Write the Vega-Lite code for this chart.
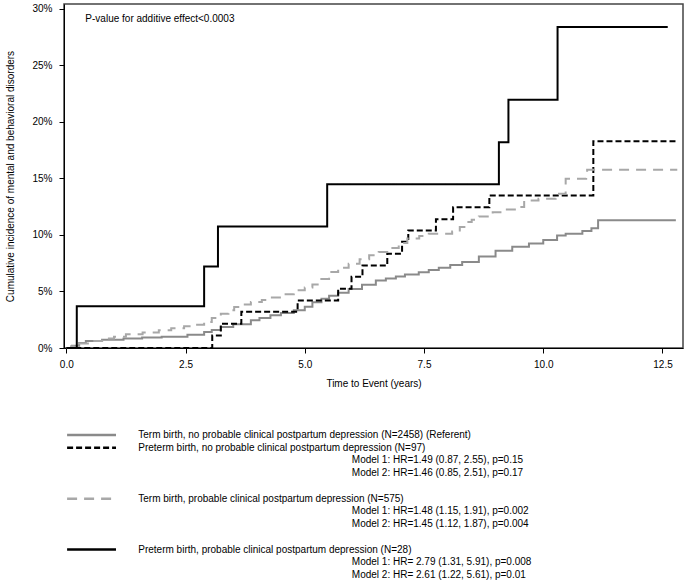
{
  "$schema": "https://vega.github.io/schema/vega-lite/v6.json",
  "padding": {"left": 5, "top": 3, "right": 0, "bottom": 0},
  "background": "white",
  "spacing": 41,
  "config": {
    "font": "Liberation Sans",
    "view": {"stroke": null},
    "axis": {
      "domainColor": "#000000",
      "tickColor": "#000000",
      "labelColor": "#000000",
      "titleColor": "#000000",
      "labelFontSize": 10,
      "titleFontSize": 10,
      "titleFontWeight": "normal",
      "tickSize": 5,
      "domainWidth": 1,
      "grid": false,
      "labelFont": "Liberation Sans",
      "titleFont": "Liberation Sans"
    },
    "text": {"font": "Liberation Sans", "fontSize": 10, "fill": "#000000"}
  },
  "datasets": {
    "curves": [
      {"series": "Term, no PPD", "t": 0, "pct": 0},
      {"series": "Term, no PPD", "t": 0.12, "pct": 0.2},
      {"series": "Term, no PPD", "t": 0.27, "pct": 0.44},
      {"series": "Term, no PPD", "t": 0.41, "pct": 0.62},
      {"series": "Term, no PPD", "t": 0.75, "pct": 0.74},
      {"series": "Term, no PPD", "t": 1.2, "pct": 0.84},
      {"series": "Term, no PPD", "t": 1.59, "pct": 0.92},
      {"series": "Term, no PPD", "t": 2.0, "pct": 1.0},
      {"series": "Term, no PPD", "t": 2.54, "pct": 1.18},
      {"series": "Term, no PPD", "t": 2.89, "pct": 1.41},
      {"series": "Term, no PPD", "t": 3.05, "pct": 1.6},
      {"series": "Term, no PPD", "t": 3.24, "pct": 1.86},
      {"series": "Term, no PPD", "t": 3.5, "pct": 2.1},
      {"series": "Term, no PPD", "t": 3.87, "pct": 2.45},
      {"series": "Term, no PPD", "t": 4.05, "pct": 2.65},
      {"series": "Term, no PPD", "t": 4.28, "pct": 2.89},
      {"series": "Term, no PPD", "t": 4.5, "pct": 3.1},
      {"series": "Term, no PPD", "t": 4.77, "pct": 3.33},
      {"series": "Term, no PPD", "t": 5.0, "pct": 3.65},
      {"series": "Term, no PPD", "t": 5.16, "pct": 4.05},
      {"series": "Term, no PPD", "t": 5.35, "pct": 4.35},
      {"series": "Term, no PPD", "t": 5.51, "pct": 4.63},
      {"series": "Term, no PPD", "t": 5.7, "pct": 4.9},
      {"series": "Term, no PPD", "t": 5.92, "pct": 5.22},
      {"series": "Term, no PPD", "t": 6.2, "pct": 5.6},
      {"series": "Term, no PPD", "t": 6.49, "pct": 5.97},
      {"series": "Term, no PPD", "t": 6.7, "pct": 6.15},
      {"series": "Term, no PPD", "t": 6.91, "pct": 6.33},
      {"series": "Term, no PPD", "t": 7.1, "pct": 6.5},
      {"series": "Term, no PPD", "t": 7.39, "pct": 6.7},
      {"series": "Term, no PPD", "t": 7.6, "pct": 6.9},
      {"series": "Term, no PPD", "t": 7.81, "pct": 7.1},
      {"series": "Term, no PPD", "t": 8.05, "pct": 7.35},
      {"series": "Term, no PPD", "t": 8.3, "pct": 7.6},
      {"series": "Term, no PPD", "t": 8.65, "pct": 8.1},
      {"series": "Term, no PPD", "t": 9.0, "pct": 8.6},
      {"series": "Term, no PPD", "t": 9.35, "pct": 8.95},
      {"series": "Term, no PPD", "t": 9.7, "pct": 9.25},
      {"series": "Term, no PPD", "t": 10.0, "pct": 9.55},
      {"series": "Term, no PPD", "t": 10.29, "pct": 9.95},
      {"series": "Term, no PPD", "t": 10.47, "pct": 10.1},
      {"series": "Term, no PPD", "t": 10.82, "pct": 10.35},
      {"series": "Term, no PPD", "t": 11.01, "pct": 10.6},
      {"series": "Term, no PPD", "t": 11.15, "pct": 11.3},
      {"series": "Term, no PPD", "t": 12.78, "pct": 11.3},

      {"series": "Preterm, no PPD", "t": 0, "pct": 0},
      {"series": "Preterm, no PPD", "t": 3.06, "pct": 1.1},
      {"series": "Preterm, no PPD", "t": 3.24, "pct": 2.15},
      {"series": "Preterm, no PPD", "t": 3.67, "pct": 3.2},
      {"series": "Preterm, no PPD", "t": 4.85, "pct": 4.2},
      {"series": "Preterm, no PPD", "t": 5.7, "pct": 5.25},
      {"series": "Preterm, no PPD", "t": 5.98, "pct": 6.3},
      {"series": "Preterm, no PPD", "t": 6.21, "pct": 7.3},
      {"series": "Preterm, no PPD", "t": 6.73, "pct": 8.35},
      {"series": "Preterm, no PPD", "t": 7.04, "pct": 9.4},
      {"series": "Preterm, no PPD", "t": 7.17, "pct": 10.4},
      {"series": "Preterm, no PPD", "t": 7.75, "pct": 11.4},
      {"series": "Preterm, no PPD", "t": 8.11, "pct": 12.45},
      {"series": "Preterm, no PPD", "t": 8.87, "pct": 13.5},
      {"series": "Preterm, no PPD", "t": 11.05, "pct": 18.3},
      {"series": "Preterm, no PPD", "t": 12.78, "pct": 18.3},

      {"series": "Term, PPD", "t": 0, "pct": 0},
      {"series": "Term, PPD", "t": 0.1, "pct": 0.15},
      {"series": "Term, PPD", "t": 0.27, "pct": 0.39},
      {"series": "Term, PPD", "t": 0.5, "pct": 0.62},
      {"series": "Term, PPD", "t": 0.75, "pct": 0.83},
      {"series": "Term, PPD", "t": 1.0, "pct": 1.0},
      {"series": "Term, PPD", "t": 1.25, "pct": 1.21},
      {"series": "Term, PPD", "t": 1.6, "pct": 1.38},
      {"series": "Term, PPD", "t": 1.94, "pct": 1.56},
      {"series": "Term, PPD", "t": 2.2, "pct": 1.75},
      {"series": "Term, PPD", "t": 2.47, "pct": 1.92},
      {"series": "Term, PPD", "t": 2.7, "pct": 2.05},
      {"series": "Term, PPD", "t": 2.89, "pct": 2.3},
      {"series": "Term, PPD", "t": 3.05, "pct": 2.65},
      {"series": "Term, PPD", "t": 3.24, "pct": 3.04},
      {"series": "Term, PPD", "t": 3.4, "pct": 3.35},
      {"series": "Term, PPD", "t": 3.52, "pct": 3.63},
      {"series": "Term, PPD", "t": 3.7, "pct": 3.85},
      {"series": "Term, PPD", "t": 3.87, "pct": 4.07},
      {"series": "Term, PPD", "t": 4.1, "pct": 4.25},
      {"series": "Term, PPD", "t": 4.28, "pct": 4.46},
      {"series": "Term, PPD", "t": 4.5, "pct": 4.75},
      {"series": "Term, PPD", "t": 4.77, "pct": 5.1},
      {"series": "Term, PPD", "t": 5.0, "pct": 5.35},
      {"series": "Term, PPD", "t": 5.16, "pct": 5.63},
      {"series": "Term, PPD", "t": 5.3, "pct": 6.1},
      {"series": "Term, PPD", "t": 5.51, "pct": 6.72},
      {"series": "Term, PPD", "t": 5.7, "pct": 7.1},
      {"series": "Term, PPD", "t": 5.92, "pct": 7.46},
      {"series": "Term, PPD", "t": 6.15, "pct": 7.85},
      {"series": "Term, PPD", "t": 6.35, "pct": 8.2},
      {"series": "Term, PPD", "t": 6.55, "pct": 8.5},
      {"series": "Term, PPD", "t": 6.77, "pct": 8.84},
      {"series": "Term, PPD", "t": 6.97, "pct": 9.3},
      {"series": "Term, PPD", "t": 7.15, "pct": 9.7},
      {"series": "Term, PPD", "t": 7.4, "pct": 9.9},
      {"series": "Term, PPD", "t": 7.6, "pct": 10.1},
      {"series": "Term, PPD", "t": 8.09, "pct": 10.3},
      {"series": "Term, PPD", "t": 8.25, "pct": 10.7},
      {"series": "Term, PPD", "t": 8.37, "pct": 11.14},
      {"series": "Term, PPD", "t": 8.5, "pct": 11.35},
      {"series": "Term, PPD", "t": 8.65, "pct": 11.64},
      {"series": "Term, PPD", "t": 8.94, "pct": 12.02},
      {"series": "Term, PPD", "t": 9.2, "pct": 12.25},
      {"series": "Term, PPD", "t": 9.46, "pct": 12.47},
      {"series": "Term, PPD", "t": 9.6, "pct": 13.06},
      {"series": "Term, PPD", "t": 9.9, "pct": 13.2},
      {"series": "Term, PPD", "t": 10.26, "pct": 13.35},
      {"series": "Term, PPD", "t": 10.33, "pct": 13.65},
      {"series": "Term, PPD", "t": 10.47, "pct": 14.98},
      {"series": "Term, PPD", "t": 10.9, "pct": 15.12},
      {"series": "Term, PPD", "t": 10.92, "pct": 15.77},
      {"series": "Term, PPD", "t": 12.81, "pct": 15.77},

      {"series": "Preterm, PPD", "t": 0, "pct": 0},
      {"series": "Preterm, PPD", "t": 0.22, "pct": 3.69},
      {"series": "Preterm, PPD", "t": 2.89, "pct": 7.22},
      {"series": "Preterm, PPD", "t": 3.18, "pct": 10.76},
      {"series": "Preterm, PPD", "t": 5.47, "pct": 14.5},
      {"series": "Preterm, PPD", "t": 9.07, "pct": 18.2},
      {"series": "Preterm, PPD", "t": 9.27, "pct": 21.96},
      {"series": "Preterm, PPD", "t": 10.3, "pct": 28.4},
      {"series": "Preterm, PPD", "t": 12.61, "pct": 28.4}
    ],
    "legend": [
      {"series": "Term, no PPD", "line": "e1", "kind": "header", "text": "Term birth, no probable clinical postpartum depression (N=2458) (Referent)"},
      {"series": "Preterm, no PPD", "line": "e2", "kind": "header", "text": "Preterm birth, no probable clinical postpartum depression (N=97)"},
      {"series": "Preterm, no PPD", "line": "e2m1", "kind": "model", "text": "Model 1: HR=1.49 (0.87, 2.55), p=0.15"},
      {"series": "Preterm, no PPD", "line": "e2m2", "kind": "model", "text": "Model 2: HR=1.46 (0.85, 2.51), p=0.17"},
      {"series": "Term, PPD", "line": "e3", "kind": "header", "text": "Term birth, probable clinical postpartum depression (N=575)"},
      {"series": "Term, PPD", "line": "e3m1", "kind": "model", "text": "Model 1: HR=1.48 (1.15, 1.91), p=0.002"},
      {"series": "Term, PPD", "line": "e3m2", "kind": "model", "text": "Model 2: HR=1.45 (1.12, 1.87), p=0.004"},
      {"series": "Preterm, PPD", "line": "e4", "kind": "header", "text": "Preterm birth, probable clinical postpartum depression (N=28)"},
      {"series": "Preterm, PPD", "line": "e4m1", "kind": "model", "text": "Model 1: HR= 2.79 (1.31, 5.91), p=0.008"},
      {"series": "Preterm, PPD", "line": "e4m2", "kind": "model", "text": "Model 2: HR= 2.61 (1.22, 5.61), p=0.01"}
    ]
  },
  "resolve": {"scale": {"color": "shared", "strokeDash": "shared"}},
  "vconcat": [
    {
      "width": 619,
      "height": 344,
      "view": {"stroke": "#444444", "strokeWidth": 1.5},
      "layer": [
        {
          "data": {"name": "curves"},
          "mark": {"type": "line", "interpolate": "step-after", "strokeWidth": 2},
          "encoding": {
            "x": {
              "field": "t", "type": "quantitative",
              "scale": {"domain": [-0.048, 12.93], "nice": false, "zero": false},
              "axis": {"values": [0, 2.5, 5, 7.5, 10, 12.5], "format": ".1f", "title": "Time to Event (years)", "labelPadding": 6, "titlePadding": 9}
            },
            "y": {
              "field": "pct", "type": "quantitative",
              "scale": {"domain": [0, 30.44], "nice": false},
              "axis": {"values": [0, 5, 10, 15, 20, 25, 30], "labelExpr": "datum.value + '%'", "title": "Cumulative incidence of mental and behavioral disorders", "labelPadding": 7, "titlePadding": 16}
            },
            "color": {
              "field": "series", "type": "nominal",
              "scale": {"domain": ["Term, no PPD", "Preterm, no PPD", "Term, PPD", "Preterm, PPD"], "range": ["#8a8a8a", "#000000", "#a8a8a8", "#000000"]},
              "legend": null
            },
            "strokeDash": {
              "field": "series", "type": "nominal",
              "scale": {"domain": ["Term, no PPD", "Preterm, no PPD", "Term, PPD", "Preterm, PPD"], "range": [[1, 0], [6, 3], [10, 7], [1, 0]]},
              "legend": null
            }
          }
        },
        {
          "data": {"values": [{"note": "P-value for additive effect<0.0003"}]},
          "mark": {"type": "text", "align": "left", "baseline": "middle", "fontSize": 10},
          "encoding": {
            "x": {"datum": 0.4},
            "y": {"datum": 29.1},
            "text": {"field": "note"}
          }
        }
      ]
    },
    {
      "width": 619,
      "height": 140,
      "data": {"name": "legend"},
      "layer": [
        {
          "transform": [{"filter": "datum.kind === 'header'"}],
          "mark": {"type": "rule", "strokeWidth": 2.5},
          "encoding": {
            "x": {"datum": 0.5, "type": "quantitative", "scale": {"domain": [0, 100], "nice": false}, "axis": null},
            "x2": {"datum": 8.4},
            "y": {"field": "line", "type": "ordinal", "scale": {"type": "point", "padding": 0, "domain": ["e1", "e2", "e2m1", "e2m2", "gap1", "e3", "e3m1", "e3m2", "gap2", "e4", "e4m1", "e4m2"]}, "axis": null},
            "color": {"field": "series", "type": "nominal", "legend": null},
            "strokeDash": {"field": "series", "type": "nominal", "legend": null}
          }
        },
        {
          "transform": [{"filter": "datum.kind === 'header'"}],
          "mark": {"type": "text", "align": "left", "baseline": "middle", "fontSize": 10},
          "encoding": {
            "x": {"datum": 12},
            "y": {"field": "line", "type": "ordinal"},
            "text": {"field": "text"}
          }
        },
        {
          "transform": [{"filter": "datum.kind === 'model'"}],
          "mark": {"type": "text", "align": "left", "baseline": "middle", "fontSize": 10},
          "encoding": {
            "x": {"datum": 46.5},
            "y": {"field": "line", "type": "ordinal"},
            "text": {"field": "text"}
          }
        }
      ]
    }
  ]
}
